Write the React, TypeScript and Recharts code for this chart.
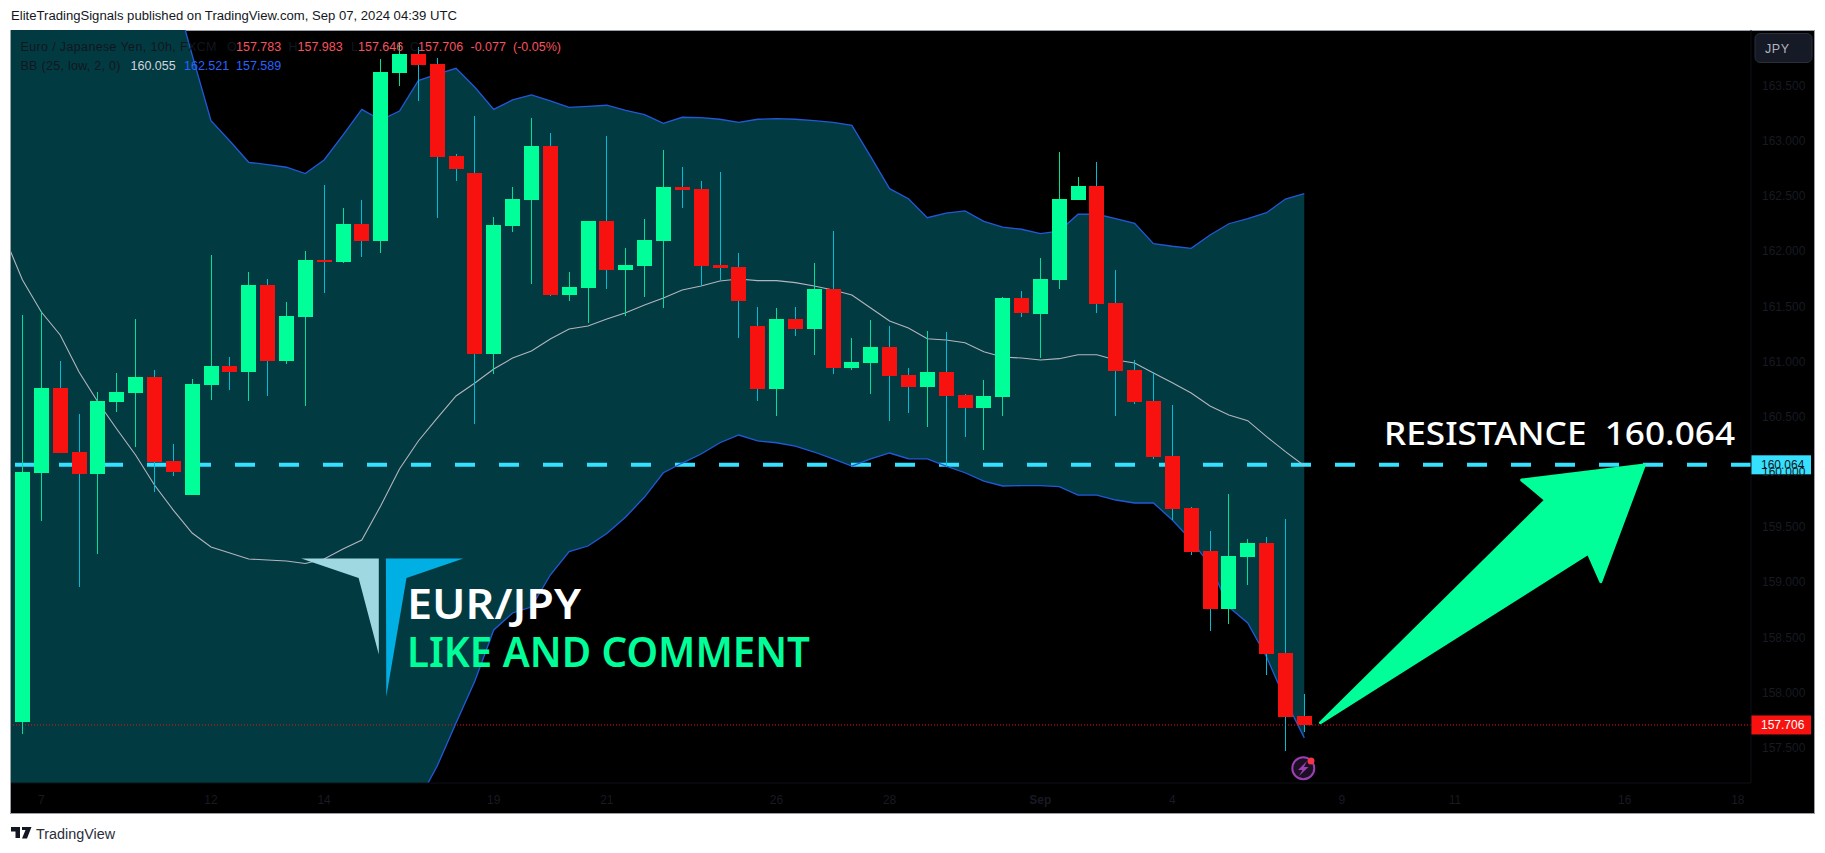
import { Area, Bar, ComposedChart, Line, ReferenceLine, XAxis, YAxis } from "recharts";

const WIDTH = 1825;
const HEIGHT = 853;
const UI_FONT = '"Liberation Sans", Arial, sans-serif';
const BANNER_FONT = '"Noto Sans", "Lato", sans-serif';

const GREEN = "#00ff99";
const RED = "#f7120f";
const AXIS_TEXT = "#171a23";

// Candles, from bar 0 on the left to bar 68, the last one printed.
const opens = [
  157.733, 159.99, 160.76, 160.18, 159.981, 160.633, 160.715, 160.86, 160.098, 159.79,
  160.787, 160.96, 160.905, 161.694, 161.005, 161.404, 161.92, 161.902, 162.247, 162.093,
  163.615, 163.788, 163.697, 162.863, 162.709, 161.068, 162.229, 162.464, 162.954, 161.603,
  161.667, 162.274, 161.83, 161.866, 162.093, 162.582, 162.564, 161.875, 161.857, 161.322,
  160.751, 161.386, 161.295, 161.657, 160.941, 160.987, 161.132, 160.878, 160.769, 160.905,
  160.697, 160.579, 160.679, 161.576, 161.431, 161.739, 162.464, 162.591, 161.531, 160.923,
  160.642, 160.144, 159.672, 159.283, 158.757, 159.228, 159.355, 158.358, 157.783,
];
const highs = [
  161.422, 161.458, 161.005, 160.525, 160.724, 160.896, 161.386, 160.923, 160.253, 160.842,
  161.966, 161.041, 161.812, 161.748, 161.54, 162.002, 162.6, 162.392, 162.464, 163.742,
  163.887, 163.851, 163.751, 162.881, 163.226, 162.31, 162.582, 163.207, 163.071, 161.812,
  162.274, 163.044, 162.029, 162.292, 162.917, 162.763, 162.636, 162.718, 161.984, 161.494,
  161.485, 161.494, 161.893, 162.183, 161.213, 161.377, 161.322, 160.941, 161.277, 161.268,
  160.706, 160.833, 161.585, 161.639, 161.939, 162.899, 162.673, 162.809, 161.83, 161.014,
  160.905, 160.606, 159.681, 159.464, 159.799, 159.392, 159.41, 159.573, 157.983,
];
const lows = [
  157.624, 159.555, 160.171, 158.956, 159.256, 160.543, 160.225, 159.818, 159.963, 159.79,
  160.651, 160.742, 160.642, 160.688, 160.978, 160.597, 161.621, 161.893, 161.948, 161.984,
  163.497, 163.362, 162.301, 162.636, 160.434, 160.887, 162.174, 161.703, 161.594, 161.549,
  161.349, 161.657, 161.413, 161.585, 161.485, 162.392, 161.685, 161.739, 161.213, 160.642,
  160.506, 161.232, 161.059, 160.887, 160.923, 160.706, 160.461, 160.534, 160.407, 160.044,
  160.316, 160.198, 160.506, 161.404, 161.032, 161.657, 162.464, 161.44, 160.506, 160.615,
  160.117, 159.564, 159.247, 158.558, 158.621, 158.975, 158.159, 157.47, 157.646,
];
const closes = [
  159.999, 160.76, 160.171, 159.981, 160.642, 160.724, 160.86, 160.089, 159.999, 160.796,
  160.96, 160.905, 161.694, 161.005, 161.413, 161.92, 161.911, 162.247, 162.093, 163.624,
  163.788, 163.688, 162.854, 162.745, 161.068, 162.238, 162.473, 162.954, 161.603, 161.676,
  162.274, 161.83, 161.875, 162.102, 162.582, 162.555, 161.866, 161.848, 161.549, 160.751,
  161.386, 161.295, 161.657, 160.941, 160.996, 161.132, 160.869, 160.769, 160.905, 160.688,
  160.579, 160.688, 161.576, 161.44, 161.748, 162.473, 162.591, 161.522, 160.914, 160.633,
  160.135, 159.663, 159.274, 158.757, 159.237, 159.355, 158.349, 157.778, 157.706,
];

// Bollinger bands, from bar -1 (just left of the frame) to bar 68.
const upperBand = [
  166.8, 166.9, 167.0, 166.9, 166.7, 166.5, 166.2, 165.9, 165.4, 164.39, 163.78,
  163.183, 162.999, 162.806, 162.784, 162.761, 162.703, 162.827, 163.053, 163.286, 163.189,
  163.271, 163.546, 163.606, 163.658, 163.486, 163.286, 163.371, 163.416, 163.362, 163.304,
  163.313, 163.323, 163.277, 163.237, 163.159, 163.214, 163.21, 163.196, 163.168, 163.196,
  163.201, 163.196, 163.183, 163.168, 163.141, 162.857, 162.567, 162.476, 162.304, 162.346,
  162.365, 162.271, 162.219, 162.199, 162.159, 162.183, 162.335, 162.335, 162.295, 162.253,
  162.068, 162.045, 162.026, 162.147, 162.249, 162.295, 162.349, 162.473, 162.521,
];
const middleBand = [
  162.147, 161.739, 161.449, 161.241, 160.905, 160.633, 160.389, 160.153, 159.881, 159.654,
  159.446, 159.319, 159.265, 159.21, 159.201, 159.192, 159.169, 159.21, 159.301, 159.382,
  159.691, 160.026, 160.28, 160.488, 160.688, 160.805, 160.932, 161.032, 161.096, 161.204,
  161.295, 161.322, 161.386, 161.443, 161.513, 161.576, 161.648, 161.685, 161.73, 161.748,
  161.733, 161.733, 161.715, 161.685, 161.648, 161.603, 161.485, 161.367, 161.304, 161.207,
  161.195, 161.171, 161.089, 161.041, 161.032, 161.014, 161.026, 161.062, 161.062, 161.014,
  160.987, 160.896, 160.808, 160.715, 160.597, 160.515, 160.464, 160.319, 160.183, 160.055,
];
const lowerBand = [
  153.6, 153.4, 153.3, 153.3, 153.4, 153.5, 153.7, 153.9, 154.1, 154.3,
  154.5, 154.7, 154.9, 155.0, 155.1, 155.2, 155.3, 155.5, 155.7, 156.0,
  156.3, 156.573, 157.017, 157.334, 157.724, 158.104, 158.567, 158.721, 158.775, 159.065,
  159.278, 159.328, 159.441, 159.591, 159.772, 159.992, 160.08, 160.162, 160.264, 160.334,
  160.28, 160.264, 160.234, 160.18, 160.117, 160.053, 160.117, 160.171, 160.119, 160.117,
  160.053, 159.992, 159.917, 159.872, 159.875, 159.875, 159.866, 159.79, 159.79, 159.745,
  159.718, 159.718, 159.564, 159.382, 159.156, 158.775, 158.63, 158.322, 157.932, 157.589,
];

const priceTicks = [157.5, 158, 158.5, 159, 159.5, 160, 160.5, 161, 161.5, 162, 162.5, 163, 163.5];
const dateTicks = [1, 10, 16, 25, 31, 40, 46, 54, 61, 70, 76, 85, 91];
const dateLabels = ["7", "12", "14", "19", "21", "26", "28", "Sep", "4", "9", "11", "16", "18"];

const RESISTANCE = 160.064;
const LAST_CLOSE = 157.706;

const rows = upperBand.map((upper, i) => {
  const bar = i - 1;
  const hasCandle = bar >= 0;
  return {
    bar,
    upper,
    middle: middleBand[i],
    lower: lowerBand[i],
    open: hasCandle ? opens[bar] : null,
    high: hasCandle ? highs[bar] : null,
    low: hasCandle ? lows[bar] : null,
    close: hasCandle ? closes[bar] : null,
  };
});

// Recharts has no candlestick, so one range bar (low..high) draws wick and body.
function Candle(props: any) {
  const { x, y, width, height, payload } = props;
  if (payload.open === null || height === undefined) return null;
  const { open, high, low, close } = payload;
  const up = close >= open;
  const pxPerPrice = height / (high - low || 1);
  const bodyTop = y + (high - Math.max(open, close)) * pxPerPrice;
  const bodyHeight = Math.max(Math.abs(open - close) * pxPerPrice, 2);
  return (
    <g shapeRendering="crispEdges">
      <rect x={x + width / 2 - 0.5} y={y} width={1} height={height} fill={up ? "#00e09a" : "#00bcd4"} />
      <rect x={x} y={bodyTop} width={width} height={bodyHeight} fill={up ? GREEN : RED} />
    </g>
  );
}

function DateTick(props: any) {
  const { x, y, index } = props;
  const label = dateLabels[index];
  return (
    <text x={x} y={y} textAnchor="middle" fontFamily={UI_FONT} fontSize={12} fill={AXIS_TEXT} fontWeight={label === "Sep" ? 700 : 400}>
      {label}
    </text>
  );
}

function PriceTag(props: any) {
  const { viewBox, value, fill, color } = props;
  const right = viewBox.x + viewBox.width;
  return (
    <g>
      <rect x={right} y={viewBox.y - 9.5} width={60} height={19} fill={fill} />
      <text x={right + 10} y={viewBox.y + 4.5} fontFamily={UI_FONT} fontSize={12} fill={color}>
        {value}
      </text>
    </g>
  );
}

function Overlay() {
  return (
    <svg width={WIDTH} height={HEIGHT} style={{ position: "absolute", left: 0, top: 0, pointerEvents: "none" }}>
      <text x={11} y={20} fontFamily={UI_FONT} fontSize={12.5} fill="#131722" textLength={446} lengthAdjust="spacingAndGlyphs">
        EliteTradingSignals published on TradingView.com, Sep 07, 2024 04:39 UTC
      </text>

      {/* legend rows */}
      <g fontFamily={UI_FONT} fontSize={12.5}>
        <text x={20.5} y={51} fill="#12161f" textLength={196}>Euro / Japanese Yen, 10h, FXCM</text>
        <text x={227} y={51} fill="#12161f">O</text>
        <text x={236} y={51} fill="#f7525f">157.783</text>
        <text x={288.5} y={51} fill="#12161f">H</text>
        <text x={297.5} y={51} fill="#f7525f">157.983</text>
        <text x={351} y={51} fill="#12161f">L</text>
        <text x={358} y={51} fill="#f7525f">157.646</text>
        <text x={410} y={51} fill="#12161f">C</text>
        <text x={418} y={51} fill="#f7525f">157.706</text>
        <text x={470.5} y={51} fill="#f7525f">-0.077</text>
        <text x={513} y={51} fill="#f7525f">(-0.05%)</text>
        <text x={20.5} y={70} fill="#12161f" textLength={100}>BB (25, low, 2, 0)</text>
        <text x={130.5} y={70} fill="#d1d4dc">160.055</text>
        <text x={184} y={70} fill="#2962ff">162.521</text>
        <text x={236} y={70} fill="#2962ff">157.589</text>
      </g>

      {/* currency button */}
      <rect x={1755} y={33.5} width={57} height={29} rx={5} fill="#151a26" stroke="#2a2e39" />
      <text x={1765} y={53} fontFamily={UI_FONT} fontSize={12.5} fill="#b2b5be" letterSpacing={0.6}>JPY</text>

      {/* watermark logo */}
      <polygon points="301.3,558.6 378.8,558.6 378.8,654.5 358.6,578" fill="#a0d8e2" />
      <polygon points="385.9,558.6 463.4,558.6 406.5,578 386.3,696.8" fill="#00b0e4" />
      <text x={407} y={619} fontFamily={BANNER_FONT} fontSize={42} fontWeight={600} fill="#ffffff" textLength={174} lengthAdjust="spacingAndGlyphs">EUR/JPY</text>
      <text x={407} y={667} fontFamily={BANNER_FONT} fontSize={42} fontWeight={600} fill={GREEN} textLength={403} lengthAdjust="spacingAndGlyphs">LIKE AND COMMENT</text>

      <text x={1384} y={445} fontFamily={BANNER_FONT} fontSize={33} fontWeight={500} fill="#ffffff" textLength={351} lengthAdjust="spacingAndGlyphs" xmlSpace="preserve">RESISTANCE  160.064</text>

      {/* target arrow */}
      <polygon
        points="1320.4,722.7 1545.8,500 1521.7,480 1644.4,465 1600.8,581.7 1588.3,553.3"
        fill={GREEN}
        stroke={GREEN}
        strokeWidth={3}
        strokeLinejoin="round"
      />

      {/* lightning badge under the last bar */}
      <circle cx={1303.3} cy={768.3} r={11} fill="#1c0f24" stroke="#9c3fb5" strokeWidth={2} />
      <polygon points="1307,761 1298,770 1302.5,770 1299,776 1308.5,767 1304,767" fill="#9c3fb5" />
      <circle cx={1311} cy={761} r={3.5} fill="#f23645" />

      {/* footer */}
      <path d="M11 827h9v11h-4.5v-6.5H11z M22 827h9.5l-4.5 11.5h-5l3.5-8.5h-3.5z" fill="#131722" />
      <text x={36} y={839} fontFamily={UI_FONT} fontSize={14} fill="#2a2e39" textLength={79} lengthAdjust="spacingAndGlyphs">TradingView</text>
    </svg>
  );
}

export default function App() {
  return (
    <div style={{ position: "absolute", left: 0, top: 0, width: WIDTH, height: HEIGHT, background: "#fff", overflow: "hidden" }}>
      <div style={{ position: "absolute", left: 10, top: 30, width: 1803, height: 782, background: "#000", border: "1px solid #9a9ea6", boxSizing: "content-box" }} />
      <div style={{ position: "absolute", left: 0, top: 0 }}>
        <ComposedChart width={WIDTH} height={HEIGHT} data={rows} margin={{ top: 30, left: 11, right: 11, bottom: 40 }}>
          <XAxis
            dataKey="bar"
            type="number"
            domain={[-0.61, 91.7]}
            allowDataOverflow
            ticks={dateTicks}
            interval={0}
            height={30}
            axisLine={{ stroke: "#0e1118" }}
            tickLine={false}
            tick={<DateTick />}
            tickMargin={15}
          />
          <YAxis
            orientation="right"
            type="number"
            domain={[157.18, 164.005]}
            allowDataOverflow
            ticks={priceTicks}
            interval={0}
            width={63}
            axisLine={{ stroke: "#0e1118" }}
            tickLine={false}
            tickMargin={5}
            tickFormatter={(v: number) => v.toFixed(3)}
            tick={{ fontFamily: UI_FONT, fontSize: 12, fill: AXIS_TEXT }}
          />
          <Area
            dataKey={(d: any) => [d.lower, d.upper]}
            stroke="none"
            fill="#023a42"
            fillOpacity={1}
            dot={false}
            activeDot={false}
            isAnimationActive={false}
          />
          <ReferenceLine
            y={LAST_CLOSE}
            stroke={RED}
            strokeDasharray="1 2"
            label={<PriceTag value={LAST_CLOSE.toFixed(3)} fill={RED} color="#ffffff" />}
          />
          <ReferenceLine
            y={RESISTANCE}
            stroke="#36e0ff"
            strokeWidth={4}
            strokeDasharray="20 24"
            label={<PriceTag value={RESISTANCE.toFixed(3)} fill="#36e0ff" color="#131722" />}
          />
          <Line dataKey="upper" stroke="#2259d8" strokeWidth={1.3} dot={false} activeDot={false} isAnimationActive={false} />
          <Line dataKey="lower" stroke="#2259d8" strokeWidth={1.3} dot={false} activeDot={false} isAnimationActive={false} />
          <Line dataKey="middle" stroke="#b2b5be" strokeWidth={1.1} dot={false} activeDot={false} isAnimationActive={false} />
          <Bar
            dataKey={(d: any) => (d.open === null ? null : [d.low, d.high])}
            barSize={15}
            shape={<Candle />}
            zIndex={900}
            isAnimationActive={false}
          />
        </ComposedChart>
      </div>
      <Overlay />
    </div>
  );
}
